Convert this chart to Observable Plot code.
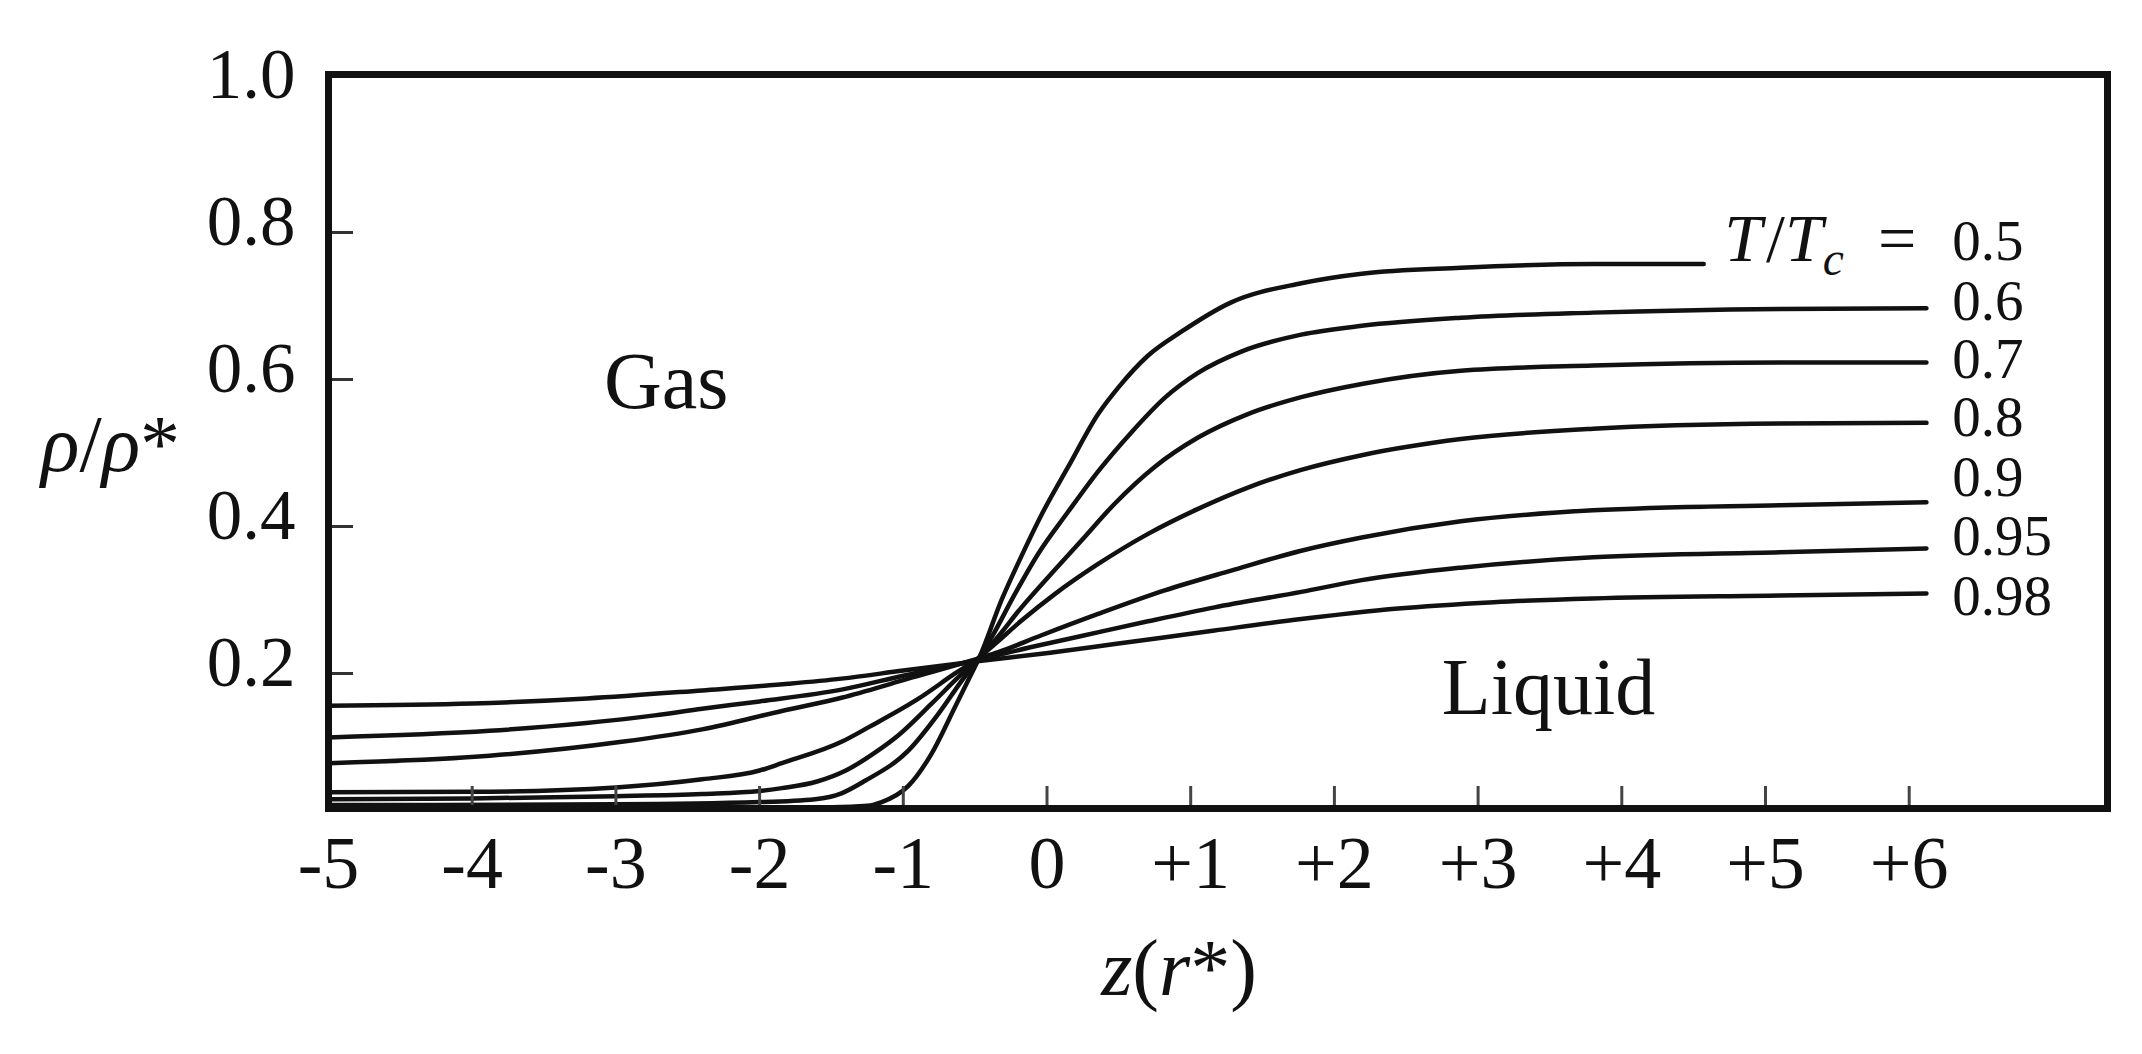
<!DOCTYPE html>
<html><head><meta charset="utf-8">
<script src="https://cdn.jsdelivr.net/npm/d3@7"></script>
<script src="https://cdn.jsdelivr.net/npm/@observablehq/plot@0.6"></script>
<style>html,body{margin:0;padding:0;background:#fff;overflow:hidden}svg{display:block}</style>
</head><body><div id="chart"></div>
<script>
// ---- data ----
const tLabels = ["0.5", "0.6", "0.7", "0.8", "0.9", "0.95", "0.98"];

const z05   = [-5, -2.5, -1.5, -1.25, -1.15, -0.965, -0.803, -0.641, -0.525, -0.47, -0.316, -0.177, -0.038, 0.147, 0.356, 0.5, 0.7, 0.935, 1.282, 1.769, 2.19, 2.88, 3.8, 4.57];
const rho05 = [0.017, 0.017, 0.018, 0.020, 0.025, 0.047, 0.091, 0.154, 0.200, 0.222, 0.300, 0.360, 0.416, 0.481, 0.553, 0.590, 0.632, 0.665, 0.705, 0.731, 0.744, 0.752, 0.757, 0.757];

const z06   = [-5, -3, -2, -1.614, -1.43, -1.266, -0.965, -0.756, -0.594, -0.47, -0.386, -0.224, -0.061, 0.147, 0.356, 0.587, 0.819, 1.051, 1.352, 1.769, 2.19, 2.88, 3.8, 5.1, 6.12];
const rho06 = [0.021, 0.022, 0.025, 0.029, 0.037, 0.054, 0.095, 0.145, 0.190, 0.222, 0.249, 0.308, 0.363, 0.420, 0.475, 0.528, 0.575, 0.609, 0.638, 0.661, 0.673, 0.684, 0.691, 0.696, 0.697];

const z07   = [-5, -4, -3, -2.4, -2.0, -1.845, -1.6, -1.4, -1.2, -1.034, -0.803, -0.617, -0.47, -0.363, -0.177, 0.008, 0.24, 0.471, 0.749, 1.051, 1.398, 1.769, 2.19, 2.88, 3.8, 5.1, 6.12];
const rho07 = [0.029, 0.030, 0.033, 0.036, 0.040, 0.044, 0.053, 0.068, 0.092, 0.116, 0.159, 0.195, 0.222, 0.245, 0.290, 0.331, 0.381, 0.431, 0.481, 0.521, 0.553, 0.576, 0.594, 0.612, 0.619, 0.623, 0.623];

const z08   = [-5, -4, -3, -2.4, -2.0, -1.845, -1.43, -1.24, -0.9, -0.64, -0.47, -0.363, -0.177, 0.054, 0.356, 0.703, 1.051, 1.398, 1.769, 2.19, 2.88, 3.8, 5.1, 6.12];
const rho08 = [0.0385, 0.039, 0.045, 0.056, 0.068, 0.078, 0.107, 0.127, 0.165, 0.200, 0.222, 0.240, 0.272, 0.308, 0.349, 0.390, 0.424, 0.453, 0.477, 0.497, 0.519, 0.533, 0.540, 0.541];

const z09   = [-5, -3.88, -2.96, -2.4, -1.845, -1.43, -1.0, -0.47, -0.339, -0.038, 0.356, 0.819, 1.282, 1.769, 2.19, 2.88, 3.8, 5.1, 6.12];
const rho09 = [0.078, 0.088, 0.107, 0.124, 0.149, 0.167, 0.191, 0.221, 0.229, 0.252, 0.281, 0.313, 0.340, 0.367, 0.385, 0.407, 0.422, 0.429, 0.433];

const z095   = [-5, -3.88, -2.73, -2.4, -2.0, -1.43, -1.0, -0.47, -0.108, 0.24, 0.703, 1.166, 1.769, 2.19, 2.88, 3.8, 5.1, 6.12];
const rho095 = [0.113, 0.122, 0.143, 0.152, 0.162, 0.178, 0.197, 0.219, 0.236, 0.251, 0.271, 0.290, 0.311, 0.327, 0.344, 0.358, 0.365, 0.370];

const z098   = [-5, -4, -3.2, -2.4, -1.8, -1.43, -1.0, -0.47, 0.008, 0.471, 1.166, 1.769, 2.42, 3.11, 3.8, 5.1, 6.12];
const rho098 = [0.156, 0.159, 0.166, 0.177, 0.186, 0.193, 0.204, 0.217, 0.228, 0.240, 0.2585, 0.274, 0.288, 0.297, 0.302, 0.306, 0.309];

const labelRho = [0.787, 0.706, 0.627, 0.548, 0.466, 0.386, 0.304];
const labelZ = 6.3;

const xTicks = [-5, -4, -3, -2, -1, 0, 1, 2, 3, 4, 5, 6];
const yTicks = [0.2, 0.4, 0.6, 0.8, 1.0];

const regionNames = ["Gas", "Liquid"];
const regionZ = [-2.65, 3.49];
const regionRho = [0.561, 0.145];

const xLabel = "z(r*)";
const yLabel = "ρ/ρ*";
const tPrefix = "T/Tc =";

// ---- build table ----
const seriesZ = [z05, z06, z07, z08, z09, z095, z098];
const seriesRho = [rho05, rho06, rho07, rho08, rho09, rho095, rho098];
const rows = tLabels.flatMap((T, s) => seriesZ[s].map((z, i) => ({T, z, rho: seriesRho[s][i]})));

// ---- layout ----
const W = 2142, H = 1054;
const mL = 328, mR = 35, mT = 74, mB = 246;
const frameW = W - mL - mR, frameH = H - mT - mB;
const font = "'Liberation Serif', 'Times New Roman', Times, serif";

const chart = Plot.plot({
  width: W, height: H,
  marginLeft: mL, marginRight: mR, marginTop: mT, marginBottom: mB,
  style: {fontFamily: font, background: "#fff", color: "#111", fontSize: "72px"},
  x: {domain: [-5, 7.38], label: null},
  y: {domain: [0.0163, 1.015], label: null},
  marks: [
    Plot.line(rows, {x: "z", y: "rho", z: "T", curve: "monotone-x", stroke: "#111", strokeWidth: 4.5, clip: true}),
    Plot.tickX(xTicks.slice(1), {x: d => d, stroke: "#444", strokeWidth: 3, insetTop: frameH - 22}),
    Plot.tickY(yTicks.slice(0, 4), {y: d => d, stroke: "#333", strokeWidth: 3, insetRight: frameW - 25}),
    Plot.frame({stroke: "#111", strokeWidth: 7}),
    Plot.axisX(xTicks, {tickSize: 0, tickPadding: 27, fontSize: 74, fill: "#111", tickFormat: d => d > 0 ? "+" + d : String(d), label: null}),
    Plot.axisY(yTicks, {tickSize: 0, tickPadding: 33, fontSize: 71, fill: "#111", dy: -10, tickFormat: d3.format(".1f"), label: null}),
    Plot.text(tLabels, {x: labelZ, y: (d, i) => labelRho[i], text: d => d, textAnchor: "start", fontSize: 57, fill: "#111"}),
    Plot.text([tPrefix], {x: labelZ, y: labelRho[0], text: d => d, textAnchor: "end", dx: -36, dy: -3, fontSize: 68, fill: "#111"}),
    Plot.text(regionNames, {x: (d, i) => regionZ[i], y: (d, i) => regionRho[i], text: d => d, lineAnchor: "bottom", fontSize: 80, fill: "#111"}),
    Plot.text([xLabel], {frameAnchor: "bottom", text: d => d, textAnchor: "middle", dx: -39, dy: 186, lineAnchor: "bottom", fontSize: 80, fill: "#111"}),
    Plot.text([yLabel], {frameAnchor: "left", text: d => d, textAnchor: "middle", dx: -218, dy: 29, lineAnchor: "bottom", fontSize: 80, fill: "#111"})
  ]
});

// ---- italic / subscript formatting of the math labels ----
function rich(el, parts) {
  el.textContent = "";
  for (const p of parts) {
    const ts = document.createElementNS("http://www.w3.org/2000/svg", "tspan");
    ts.textContent = p.t;
    if (p.i) ts.setAttribute("font-style", "italic");
    if (p.fs) ts.setAttribute("font-size", p.fs);
    if (p.dy) ts.setAttribute("dy", p.dy);
    if (p.dx) ts.setAttribute("dx", p.dx);
    el.appendChild(ts);
  }
}
d3.select(chart).selectAll("text").each(function () {
  const t = this.textContent;
  if (t === xLabel) rich(this, [{t: "z", i: 1}, {t: "("}, {t: "r", i: 1}, {t: "*"}, {t: ")"}]);
  else if (t === yLabel) rich(this, [{t: "ρ", i: 1}, {t: "/"}, {t: "ρ", i: 1}, {t: "*"}]);
  else if (t === tPrefix) rich(this, [{t: "T", i: 1}, {t: "/", dx: "0.06em"}, {t: "T", i: 1}, {t: "c", i: 1, fs: "0.7em", dy: "0.3em"}, {t: "=", dx: "0.5em", dy: "-0.21em"}]);
});

document.getElementById("chart").appendChild(chart);
</script>
</body></html>
